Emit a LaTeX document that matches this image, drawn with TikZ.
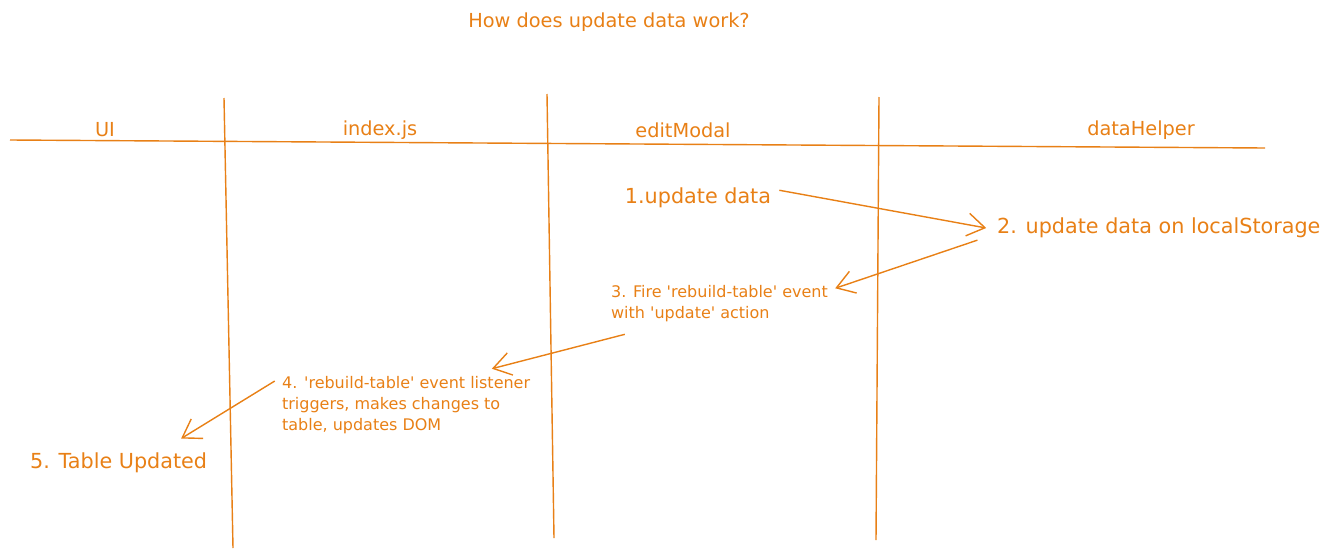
\documentclass[tikz,border=0pt]{standalone}
\usepackage{fontspec}
\setmainfont{DejaVu Sans}
\usetikzlibrary{arrows.meta}
\definecolor{sketchorange}{RGB}{232,128,22}
\newcommand{\tick}{\textquotesingle}

\begin{document}
\begin{tikzpicture}[
    x=0.02cm,
    y=-0.02cm,
    lane/.style={
        draw=sketchorange,
        line width=0.8pt
    },
    label/.style={
        text=sketchorange,
        font=\fontsize{11}{13}\selectfont,
        inner sep=1pt
    },
    stepbig/.style={
        text=sketchorange,
        font=\fontsize{11.8}{14}\selectfont,
        inner sep=1pt
    },
    stepsmall/.style={
        text=sketchorange,
        font=\fontsize{9.1}{12}\selectfont,
        align=left,
        inner sep=1pt
    },
    flow/.style={
        draw=sketchorange,
        line width=0.8pt,
        -{Straight Barb[length=10pt,width=13pt]}
    }
]
\useasboundingbox (0,0) rectangle (1325,558);

% Title
\node[label] (title) at (609,22) {How does update data work?};

% Lanes
\draw[lane] (10,140) -- (1265,148);
\draw[lane] (224,98) -- (233,548);
\draw[lane] (547,94) -- (554,538);
\draw[lane] (879,97) -- (876,540);

% Headers
\node[label] (ui) at (105,130) {UI};
\node[label] (index) at (380,130) {index.js};
\node[label] (modal) at (683,130) {editModal};
\node[label] (helper) at (1141,130) {dataHelper};

% Steps
\node[stepbig] (step1) at (698,198) {1.update data};
\node[stepbig, anchor=west] (step2) at (995,228) {2. update data on localStorage};
\node[stepsmall, anchor=north west] (step3) at (609,283) {3. Fire \tick rebuild-table\tick{} event\\with \tick update\tick{} action};
\node[stepsmall, anchor=north west] (step4) at (280,374) {4. \tick rebuild-table\tick{} event listener\\triggers, makes changes to\\table, updates DOM};
\node[stepbig, anchor=west] (step5) at (28,463) {5. Table Updated};

% Flow
\draw[flow] ([xshift=3.5pt,yshift=-2.5pt]step1.north east) -- ([xshift=-5pt]step2.west);
\draw[flow] ([xshift=-10pt]step2.south west) -- ([xshift=3pt,yshift=-3pt]step3.north east);
\draw[flow] ([xshift=9pt,yshift=-6pt]step3.south west) -- ([xshift=-23pt,yshift=3pt]step4.north east);
\draw[flow] ([xshift=-3pt,yshift=-4pt]step4.north west) -- ([xshift=-16pt,yshift=7pt]step5.north east);

\end{tikzpicture}
\end{document}
